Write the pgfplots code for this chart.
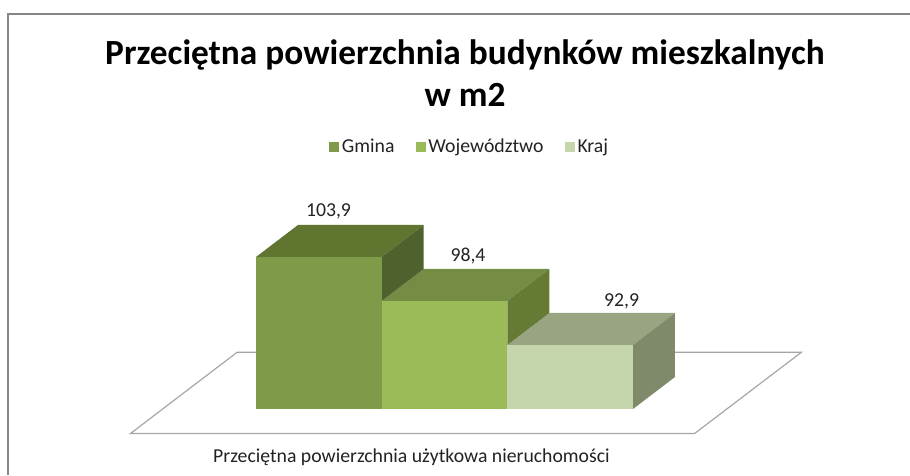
\documentclass[border=0pt]{standalone}
\usepackage{fontspec}
\setmainfont{Carlito}
\usepackage{pgfplots}
\pgfplotsset{compat=1.18}
\definecolor{gf}{HTML}{7F9A48}\definecolor{gt}{HTML}{5F7530}\definecolor{gs}{HTML}{4F612D}
\definecolor{wf}{HTML}{9BBB59}\definecolor{wt}{HTML}{748C43}\definecolor{ws}{HTML}{647A35}
\definecolor{kf}{HTML}{C6D6AC}\definecolor{kt}{HTML}{98A482}\definecolor{ks}{HTML}{7F8A6A}
\definecolor{fl}{HTML}{A6A6A6}\definecolor{fr}{HTML}{868686}\definecolor{tx}{HTML}{222222}
\begin{document}
\begin{tikzpicture}[x=0.75pt,y=0.75pt]
\path[use as bounding box] (0,0) rectangle (910,475);
\begin{axis}[
  at={(0,0)},anchor=south west,scale only axis,
  width=682.5pt,height=356.25pt,
  xmin=-2.0371,xmax=5.2042,
  ymin=76.65,ymax=136.025,
  axis lines=none,clip=false,
  legend style={draw=none,fill=none,at={(rel axis cs:0.5165,0.6905)},anchor=center,
    legend columns=3,font=\fontsize{14.8pt}{16pt}\selectfont,text=tx,
    /tikz/every even column/.append style={column sep=14pt},
    inner sep=0pt},
  legend image code/.code={\fill[#1] (0pt,-3.6pt) rectangle (7.5pt,3.9pt);},
  every axis plot/.append style={draw=none},
]
\addplot[draw=fl,line width=0.9pt,forget plot] coordinates {(-0.1496,92.0)(-0.9984,81.84)(3.4902,81.84)(4.3406,92.0)(-0.1496,92.0)};
% Kraj
\addplot[fill=kt,forget plot] coordinates {(2,92.9)(3,92.9)(3.334,96.9)(2.334,96.9)} --cycle;
\addplot[fill=ks,forget plot] coordinates {(3,84.9)(3.334,88.9)(3.334,96.9)(3,92.9)} --cycle;
% Wojewodztwo
\addplot[fill=wt,forget plot] coordinates {(1,98.4)(2,98.4)(2.334,102.4)(1.334,102.4)} --cycle;
\addplot[fill=ws,forget plot] coordinates {(2,92.9)(2.334,96.9)(2.334,102.4)(2,98.4)} --cycle;
% Gmina
\addplot[fill=gt,forget plot] coordinates {(0,103.9)(1,103.9)(1.334,107.9)(0.334,107.9)} --cycle;
\addplot[fill=gs,forget plot] coordinates {(1,98.4)(1.334,102.4)(1.334,107.9)(1,103.9)} --cycle;
% front faces
\addplot[fill=gf] coordinates {(0,84.9)(1,84.9)(1,103.9)(0,103.9)} --cycle;
\addlegendentry{Gmina}
\addplot[fill=wf] coordinates {(1,84.9)(2,84.9)(2,98.4)(1,98.4)} --cycle;
\addlegendentry{Województwo}
\addplot[fill=kf] coordinates {(2,84.9)(3,84.9)(3,92.9)(2,92.9)} --cycle;
\addlegendentry{Kraj}
% value labels
\addplot[only marks,mark=none,forget plot,
  nodes near coords,point meta=explicit symbolic,
  nodes near coords style={font=\fontsize{14.8pt}{16pt}\selectfont,text=tx,anchor=center,yshift=0pt}]
  table[meta=l]{
x y l
0.577 109.65 {103,9}
1.687 104.0 {98,4}
2.909 98.3 {92,9}
};
\end{axis}
\draw[fr,line width=1.5pt] (8,0) -- (8,461) -- (910,461);
\node[font=\bfseries\fontsize{26.5pt}{32pt}\selectfont,align=center] at (465,402) {Przeciętna powierzchnia budynków mieszkalnych\\w m2};
\node[font=\fontsize{14.8pt}{16pt}\selectfont,text=tx] at (411.5,18) {Przeciętna powierzchnia użytkowa nieruchomości};
\end{tikzpicture}
\end{document}
